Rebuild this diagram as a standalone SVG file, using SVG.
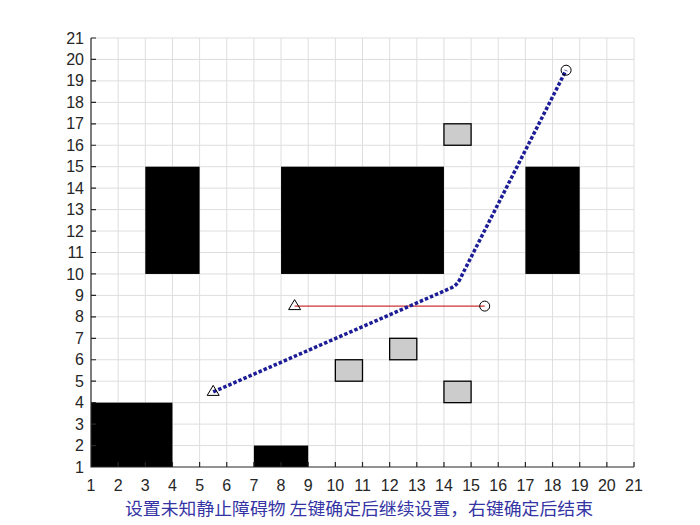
<svg xmlns="http://www.w3.org/2000/svg" width="700" height="525" viewBox="0 0 700 525">
<style>
.grid{stroke:#dedede;stroke-width:1;fill:none}
.axis{stroke:#262626;stroke-width:1.2;fill:none}
.tl{font-family:"Liberation Sans",Arial,sans-serif;font-size:16px;fill:#262626}
.obs{fill:#000}
.unk{fill:#cccccc;stroke:#000;stroke-width:1.3}
.mk{fill:none;stroke:#000;stroke-width:1}
.path{fill:none;stroke:#1c1c96;stroke-width:3.5;stroke-dasharray:3.5 2}
.cap{font-family:"Noto Sans CJK SC","Noto Sans CJK JP",sans-serif;font-size:17px;fill:#3434a4}
</style>
<rect width="700" height="525" fill="#fff"/>
<g id="grid" class="grid">
<path d="M118.15 38V467M145.3 38V467M172.45 38V467M199.6 38V467M226.75 38V467M253.9 38V467M281.05 38V467M308.2 38V467M335.35 38V467M362.5 38V467M389.65 38V467M416.8 38V467M443.95 38V467M471.1 38V467M498.25 38V467M525.4 38V467M552.55 38V467M579.7 38V467M606.85 38V467M634 38V467"/>
<path d="M91 445.55H634M91 424.1H634M91 402.65H634M91 381.2H634M91 359.75H634M91 338.3H634M91 316.85H634M91 295.4H634M91 273.95H634M91 252.5H634M91 231.05H634M91 209.6H634M91 188.15H634M91 166.7H634M91 145.25H634M91 123.8H634M91 102.35H634M91 80.9H634M91 59.45H634M91 38H634"/>
</g>
<g id="obstacles">
<rect class="obs" x="91" y="402.65" width="81.45" height="64.35"/>
<rect class="obs" x="145.3" y="166.7" width="54.3" height="107.25"/>
<rect class="obs" x="281.05" y="166.7" width="162.9" height="107.25"/>
<rect class="obs" x="525.4" y="166.7" width="54.3" height="107.25"/>
<rect class="obs" x="253.9" y="445.55" width="54.3" height="21.45"/>
</g>
<g id="unknown-obstacles">
<rect class="unk" x="443.95" y="123.8" width="27.15" height="21.45"/>
<rect class="unk" x="335.35" y="359.75" width="27.15" height="21.45"/>
<rect class="unk" x="389.65" y="338.3" width="27.15" height="21.45"/>
<rect class="unk" x="443.95" y="381.2" width="27.15" height="21.45"/>
</g>
<g id="axes">
<path class="axis" d="M91 38V467H634"/>
<path class="axis" d="M91 445.55h5M91 424.1h5M91 402.65h5M91 381.2h5M91 359.75h5M91 338.3h5M91 316.85h5M91 295.4h5M91 273.95h5M91 252.5h5M91 231.05h5M91 209.6h5M91 188.15h5M91 166.7h5M91 145.25h5M91 123.8h5M91 102.35h5M91 80.9h5M91 59.45h5M91 38h5"/>
<path class="axis" d="M118.15 467v-5M145.3 467v-5M172.45 467v-5M199.6 467v-5M226.75 467v-5M253.9 467v-5M281.05 467v-5M308.2 467v-5M335.35 467v-5M362.5 467v-5M389.65 467v-5M416.8 467v-5M443.95 467v-5M471.1 467v-5M498.25 467v-5M525.4 467v-5M552.55 467v-5M579.7 467v-5M606.85 467v-5M634 467v-5"/>
<g class="tl" text-anchor="end">
<text x="84" y="472.5">1</text><text x="84" y="451">2</text><text x="84" y="429.6">3</text><text x="84" y="408.1">4</text><text x="84" y="386.7">5</text><text x="84" y="365.2">6</text><text x="84" y="343.8">7</text><text x="84" y="322.3">8</text><text x="84" y="300.9">9</text><text x="84" y="279.5">10</text><text x="84" y="258">11</text><text x="84" y="236.5">12</text><text x="84" y="215.1">13</text><text x="84" y="193.6">14</text><text x="84" y="172.2">15</text><text x="84" y="150.7">16</text><text x="84" y="129.3">17</text><text x="84" y="107.8">18</text><text x="84" y="86.4">19</text><text x="84" y="64.9">20</text><text x="84" y="43.5">21</text>
</g>
<g class="tl" text-anchor="middle">
<text x="91" y="491">1</text><text x="118.15" y="491">2</text><text x="145.3" y="491">3</text><text x="172.45" y="491">4</text><text x="199.6" y="491">5</text><text x="226.75" y="491">6</text><text x="253.9" y="491">7</text><text x="281.05" y="491">8</text><text x="308.2" y="491">9</text><text x="335.35" y="491">10</text><text x="362.5" y="491">11</text><text x="389.65" y="491">12</text><text x="416.8" y="491">13</text><text x="443.95" y="491">14</text><text x="471.1" y="491">15</text><text x="498.25" y="491">16</text><text x="525.4" y="491">17</text><text x="552.55" y="491">18</text><text x="579.7" y="491">19</text><text x="606.85" y="491">20</text><text x="634" y="491">21</text>
</g>
</g>
<g id="connectors">
<line id="line-red" x1="294.6" y1="306.1" x2="484.7" y2="306.1" stroke="#c00000" stroke-width="1"/>
<path id="path-blue" class="path" d="M213.2 391.9L451 288Q457.5 285 460.5 278L566.1 70.2"/>
</g>
<g id="markers">
<polygon class="mk" points="294.6,299.6 288.6,309.6 300.6,309.6"/>
<circle class="mk" cx="484.7" cy="306.1" r="5"/>
<polygon class="mk" points="213.2,385.4 207.2,395.4 219.2,395.4"/>
<circle class="mk" cx="566.1" cy="70.2" r="5"/>
</g>
<text class="cap" x="359" y="515" text-anchor="middle" textLength="468" lengthAdjust="spacingAndGlyphs">设置未知静止障碍物 左键确定后继续设置，右键确定后结束</text>
</svg>
